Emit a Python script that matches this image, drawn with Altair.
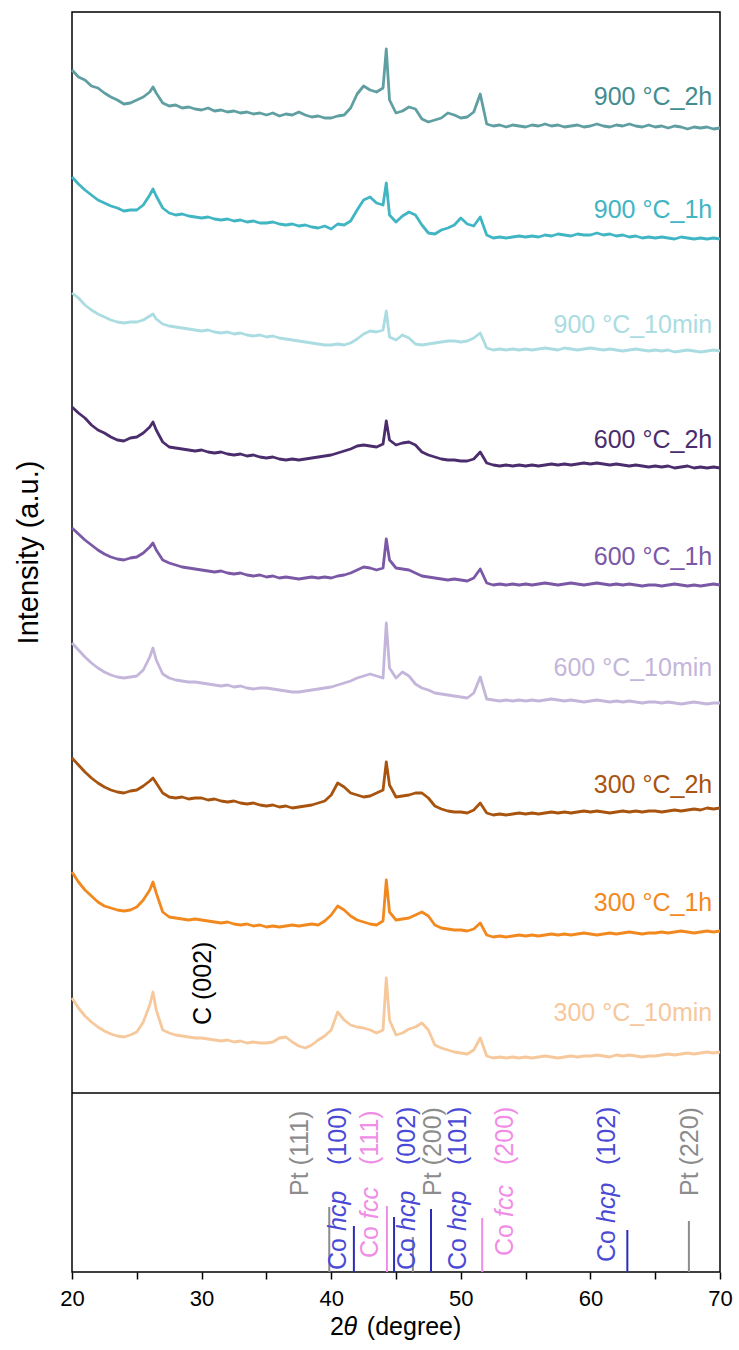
import altair as alt
import pandas as pd

# ---------------- data ----------------
two_theta = [20.0, 20.5, 21.0, 21.5, 22.0, 22.5, 23.0, 23.5, 24.0, 24.5,
             25.0, 25.5, 26.0, 26.25, 26.5, 27.0, 27.5, 28.0, 28.5, 29.0, 29.5,
             30.0, 30.5, 31.0, 31.5, 32.0, 32.5, 33.0, 33.5, 34.0, 34.5,
             35.0, 35.5, 36.0, 36.5, 37.0, 37.5, 38.0, 38.5, 39.0, 39.5,
             40.0, 40.5, 41.0, 41.5, 42.0, 42.5, 43.0, 43.5, 44.0, 44.25, 44.5,
             45.0, 45.5, 46.0, 46.5, 47.0, 47.5, 48.0, 48.5, 49.0, 49.5,
             50.0, 50.5, 51.0, 51.5, 52.0, 52.5, 53.0, 53.5, 54.0, 54.5,
             55.0, 55.5, 56.0, 56.5, 57.0, 57.5, 58.0, 58.5, 59.0, 59.5,
             60.0, 60.5, 61.0, 61.5, 62.0, 62.5, 63.0, 63.5, 64.0, 64.5,
             65.0, 65.5, 66.0, 66.5, 67.0, 67.5, 68.0, 68.5, 69.0, 69.5, 70.0]

I_900_2h = [1023, 1016, 1013, 1007, 1005, 1000, 996, 993, 989, 990,
            993, 996, 1001, 1006, 1000, 990, 987, 988, 985, 986, 984,
            983, 985, 982, 983, 981, 982, 980, 981, 979, 980,
            978, 980, 977, 979, 978, 981, 978, 976, 977, 975,
            975, 977, 978, 985, 999, 1007, 1003, 1001, 1005, 1044, 993,
            980, 982, 986, 984, 974, 971, 973, 975, 980, 978,
            975, 976, 981, 999, 969, 967, 968, 966, 968, 967,
            966, 968, 967, 969, 967, 968, 966, 967, 968, 966,
            967, 969, 967, 966, 968, 967, 969, 967, 966, 968,
            966, 967, 965, 967, 966, 964, 966, 965, 966, 964, 965]

I_900_1h = [916, 909, 903, 898, 893, 890, 887, 885, 882, 883,
            883, 888, 898, 904, 897, 885, 880, 878, 879, 877, 876,
            875, 876, 874, 873, 874, 872, 873, 871, 872, 870,
            870, 871, 869, 868, 869, 867, 868, 866, 865, 867,
            864, 869, 868, 872, 883, 893, 896, 890, 888, 910, 878,
            871, 877, 881, 878, 868, 860, 859, 863, 865, 868,
            875, 869, 867, 876, 858, 855, 856, 855, 856, 857,
            856, 857, 856, 858, 857, 859, 858, 857, 859, 858,
            858, 860, 858, 859, 857, 858, 856, 857, 855, 856,
            855, 856, 855, 854, 856, 855, 854, 855, 854, 855, 854]

I_900_10min = [800, 795, 788, 783, 779, 776, 773, 771, 770, 771,
               771, 773, 777, 779, 774, 769, 767, 766, 765, 764, 763,
               762, 763, 761, 760, 761, 759, 760, 758, 757, 758,
               756, 757, 755, 754, 753, 752, 751, 750, 749, 748,
               748, 749, 748, 750, 754, 759, 762, 761, 763, 782, 756,
               753, 758, 755, 749, 748, 749, 750, 751, 752, 752,
               751, 752, 755, 760, 745, 743, 744, 743, 744, 743,
               744, 743, 744, 745, 744, 743, 745, 744, 743, 744,
               745, 744, 743, 744, 743, 742, 743, 744, 743, 742,
               743, 742, 743, 741, 742, 743, 742, 741, 742, 743, 742]

I_600_2h = [686, 680, 675, 668, 663, 660, 656, 653, 652, 655,
            656, 660, 666, 671, 663, 651, 646, 645, 644, 643, 642,
            643, 641, 640, 641, 639, 638, 639, 637, 638, 636,
            635, 636, 634, 633, 634, 633, 634, 635, 636, 637,
            638, 640, 642, 644, 647, 648, 647, 646, 649, 672, 653,
            648, 650, 651, 648, 641, 638, 636, 634, 633, 633,
            632, 632, 634, 641, 630, 628, 627, 628, 627, 628,
            627, 628, 627, 628, 629, 628, 629, 628, 629, 630,
            629, 630, 629, 628, 629, 628, 627, 628, 627, 626,
            627, 626, 627, 625, 626, 627, 625, 626, 625, 626, 625]

I_600_1h = [565, 559, 553, 548, 543, 539, 536, 534, 533, 535,
            536, 540, 546, 550, 543, 533, 530, 528, 526, 525, 524,
            523, 522, 521, 522, 520, 519, 520, 518, 517, 518,
            516, 517, 515, 516, 515, 514, 515, 516, 515, 516,
            515, 517, 518, 520, 523, 526, 525, 523, 525, 554, 533,
            525, 524, 523, 520, 517, 516, 515, 514, 513, 514,
            513, 512, 515, 524, 510, 508, 509, 508, 509, 508,
            509, 508, 509, 510, 509, 508, 509, 510, 509, 508,
            509, 510, 509, 508, 509, 508, 509, 508, 507, 508,
            508, 507, 508, 509, 508, 507, 508, 507, 508, 509, 508]

I_600_10min = [450, 443, 436, 430, 425, 421, 418, 416, 415, 416,
               417, 423, 436, 445, 433, 419, 415, 413, 412, 411, 411,
               410, 409, 408, 407, 408, 406, 407, 405, 404, 405,
               405, 404, 403, 402, 401, 401, 402, 403, 404, 405,
               406, 408, 410, 412, 415, 417, 419, 417, 415, 470, 425,
               415, 421, 417, 409, 405, 403, 400, 399, 398, 397,
               396, 395, 400, 416, 394, 393, 392, 393, 392, 393,
               392, 393, 392, 393, 394, 393, 392, 393, 392, 391,
               392, 393, 392, 391, 392, 391, 392, 391, 390, 391,
               391, 390, 391, 390, 389, 390, 391, 390, 389, 390, 390]

I_300_2h = [335, 328, 321, 315, 310, 306, 303, 301, 300, 302,
            303, 307, 312, 315, 310, 300, 296, 295, 296, 294, 295,
            295, 293, 294, 292, 291, 292, 290, 289, 290, 288,
            287, 288, 286, 287, 285, 286, 287, 288, 290, 292,
            298, 310, 306, 300, 298, 296, 297, 300, 303, 331, 308,
            296, 297, 298, 300, 300, 295, 287, 284, 282, 281,
            281, 280, 283, 290, 280, 278, 279, 278, 279, 280,
            279, 280, 279, 280, 281, 280, 281, 280, 281, 282,
            281, 282, 281, 280, 281, 282, 281, 282, 281, 282,
            282, 281, 282, 283, 282, 283, 284, 283, 285, 284, 285]

I_300_1h = [221, 211, 203, 197, 191, 187, 185, 183, 182, 183,
            186, 193, 203, 211, 200, 181, 176, 175, 174, 173, 174,
            173, 172, 171, 170, 171, 169, 168, 169, 167, 168,
            166, 167, 166, 167, 168, 167, 168, 169, 168, 172,
            178, 187, 183, 177, 173, 171, 169, 168, 172, 213, 181,
            173, 174, 175, 178, 181, 177, 168, 165, 164, 163,
            163, 162, 164, 170, 158, 156, 157, 156, 157, 158,
            157, 158, 157, 158, 159, 158, 159, 158, 159, 160,
            159, 158, 159, 160, 159, 160, 161, 160, 159, 160,
            160, 161, 160, 161, 162, 161, 160, 161, 162, 161, 162]

I_300_10min = [95, 85, 77, 71, 66, 62, 59, 57, 56, 58,
               61, 71, 88, 101, 83, 63, 60, 58, 57, 56, 55,
               55, 54, 53, 52, 53, 51, 52, 50, 51, 50,
               50, 51, 55, 56, 51, 47, 45, 48, 53, 57,
               63, 81, 73, 68, 66, 65, 63, 60, 63, 115, 73,
               58, 60, 64, 66, 70, 63, 48, 45, 43, 41,
               40, 39, 43, 55, 37, 35, 36, 35, 36, 35,
               36, 35, 36, 37, 36, 35, 36, 37, 36, 37,
               37, 38, 37, 36, 38, 37, 38, 37, 36, 37,
               37, 38, 39, 38, 39, 40, 39, 40, 41, 40, 41]

samples = ["900 °C_2h", "900 °C_1h", "900 °C_10min",
           "600 °C_2h", "600 °C_1h", "600 °C_10min",
           "300 °C_2h", "300 °C_1h", "300 °C_10min"]
series = [I_900_2h, I_900_1h, I_900_10min,
          I_600_2h, I_600_1h, I_600_10min,
          I_300_2h, I_300_1h, I_300_10min]
sample_colors = ["#5f9fa2", "#40b5c3", "#aadce2",
                 "#4b2d6e", "#7a58a6", "#c4b6da",
                 "#a8540f", "#f2891f", "#f6c89b"]
label_colors = ["#3f8d8f", "#40b5c3", "#aadce2",
                "#4b2d6e", "#7a58a6", "#c4b6da",
                "#a8540f", "#f2891f", "#f6c89b"]
label_levels = [996, 883, 768, 653, 536, 425, 308, 190, 80]
label_x = 69.4

# reference pattern (bottom panel); heights = relative intensity above panel floor
panel_floor = -179
ref_pos = [39.85, 41.75, 44.3, 44.85, 46.3, 47.7, 51.65, 62.85, 67.6]
ref_height = [65, 46, 66, 55, 35, 63, 54, 42, 51]
ref_phase = ["Pt", "Co hcp", "Co fcc", "Co hcp", "Pt", "Co hcp", "Co fcc", "Co hcp", "Pt"]
phases = ["Pt", "Co hcp", "Co fcc"]
phase_line_colors = ["#8c8c8c", "#2b2bb8", "#f08de6"]
phase_text_colors = ["#8c8c8c", "#4a4ad6", "#f08de6"]

# rotated reference labels: text, 2theta, start height above floor, phase, italic
lab_text = ["Pt (111)",
            "Co", "hcp", "(100)",
            "Co", "fcc", "(111)",
            "Co", "hcp", "(002)",
            "Pt (200)",
            "Co", "hcp", "(101)",
            "Co", "fcc", "(200)",
            "Co", "hcp", "(102)",
            "Pt (220)"]
lab_pos = [37.6,
           40.5, 40.5, 40.5,
           43.0, 43.0, 43.0,
           45.85, 45.85, 45.85,
           47.85,
           49.8, 49.8, 49.8,
           53.4, 53.4, 53.4,
           61.3, 61.3, 61.3,
           67.7]
lab_start = [76,
             2, 41, 107,
             14, 53, 107,
             2, 41, 107,
             76,
             2, 41, 107,
             16, 55, 107,
             10, 49, 107,
             76]
lab_phase = ["Pt",
             "Co hcp", "Co hcp", "Co hcp",
             "Co fcc", "Co fcc", "Co fcc",
             "Co hcp", "Co hcp", "Co hcp",
             "Pt",
             "Co hcp", "Co hcp", "Co hcp",
             "Co fcc", "Co fcc", "Co fcc",
             "Co hcp", "Co hcp", "Co hcp",
             "Pt"]
lab_italic = [False,
              False, True, False,
              False, True, False,
              False, True, False,
              False,
              False, True, False,
              False, True, False,
              False, True, False,
              False]

carbon_label = "C (002)"
carbon_pos = 30.1
carbon_level = 68

# x-axis title pieces ("2θ (degree)" with italic θ)
xt_text = ["2", "θ", "(degree)"]
xt_pos = [39.9, 40.95, 42.75]
xt_italic = [False, True, False]
xt_level = -234

# ---------------- tables ----------------
rows = []
for name, vals in zip(samples, series):
    for t, v in zip(two_theta, vals):
        rows.append({"two_theta": t, "intensity": v, "sample": name})
df = pd.DataFrame(rows)

labels_df = pd.DataFrame({"sample": samples, "level": label_levels,
                          "x": [label_x] * len(samples)})

ref_df = pd.DataFrame({"pos": ref_pos, "phase": ref_phase,
                       "y0": [panel_floor] * len(ref_pos),
                       "y1": [panel_floor + h for h in ref_height]})

lab_df = pd.DataFrame({"text": lab_text, "pos": lab_pos, "phase": lab_phase,
                       "italic": lab_italic,
                       "y": [panel_floor + s for s in lab_start]})

sep_df = pd.DataFrame({"a": [20], "b": [70], "y": [0]})
carbon_df = pd.DataFrame({"text": [carbon_label], "pos": [carbon_pos], "y": [carbon_level]})
xt_df = pd.DataFrame({"text": xt_text, "pos": xt_pos, "italic": xt_italic,
                      "y": [xt_level] * len(xt_text)})

# ---------------- chart ----------------
FONT = "Liberation Sans"
x_scale = alt.Scale(domain=[20, 70], nice=False, zero=False)
y_scale = alt.Scale(domain=[panel_floor, 1081], nice=False, zero=False)
sample_scale = alt.Scale(domain=samples, range=sample_colors)
label_scale = alt.Scale(domain=samples, range=label_colors)
phase_line_scale = alt.Scale(domain=phases, range=phase_line_colors)
phase_text_scale = alt.Scale(domain=phases, range=phase_text_colors)

x_axis = alt.Axis(values=[20, 25, 30, 35, 40, 45, 50, 55, 60, 65, 70],
                  labelExpr="datum.value % 10 === 0 ? datum.label : ''",
                  title="", labelFlush=False,
                  labelFontSize=22, labelColor="black", labelPadding=9,
                  tickSize=7, tickWidth=1.5, tickColor="black",
                  domain=False, grid=False, labelFont=FONT)
y_axis = alt.Axis(title="Intensity (a.u.)", labels=False, ticks=False, domain=False,
                  grid=False, titleFontSize=29, titleFontWeight="normal",
                  titleColor="black", titleX=-44, titleY=540, titleAngle=270,
                  titleAlign="center", titleBaseline="middle", titleFont=FONT)


def X(field):
    return alt.X(field, scale=x_scale, axis=x_axis)


def Y(field):
    return alt.Y(field, scale=y_scale, axis=y_axis)


lines = alt.Chart(df).mark_line(strokeWidth=2.8, strokeJoin="round").encode(
    x=X("two_theta:Q"),
    y=Y("intensity:Q"),
    color=alt.Color("sample:N", scale=sample_scale, legend=None),
    detail="sample:N",
)

sample_labels = alt.Chart(labels_df).mark_text(
    align="right", baseline="middle", fontSize=25, font=FONT
).encode(
    x=X("x:Q"),
    y=Y("level:Q"),
    text="sample:N",
    color=alt.Color("sample:N", scale=label_scale, legend=None),
)

separator = alt.Chart(sep_df).mark_rule(color="black", strokeWidth=1.5).encode(
    x=X("a:Q"), x2="b:Q",
    y=Y("y:Q"),
)

ref_lines = alt.Chart(ref_df).mark_rule(strokeWidth=2).encode(
    x=X("pos:Q"),
    y=Y("y0:Q"), y2="y1:Q",
    color=alt.Color("phase:N", scale=phase_line_scale, legend=None),
)


def ref_text(italic):
    sub = lab_df[lab_df["italic"] == italic]
    return alt.Chart(sub).mark_text(
        angle=270, align="left", baseline="middle", fontSize=25, font=FONT,
        fontStyle="italic" if italic else "normal"
    ).encode(
        x=X("pos:Q"),
        y=Y("y:Q"),
        text="text:N",
        color=alt.Color("phase:N", scale=phase_text_scale, legend=None),
    )


def title_text(italic):
    sub = xt_df[xt_df["italic"] == italic]
    return alt.Chart(sub).mark_text(
        align="left", baseline="middle", fontSize=25, font=FONT, color="black",
        fontStyle="italic" if italic else "normal"
    ).encode(
        x=X("pos:Q"),
        y=Y("y:Q"),
        text="text:N",
    )


carbon = alt.Chart(carbon_df).mark_text(
    angle=270, align="left", baseline="middle", fontSize=25, font=FONT, color="black"
).encode(
    x=X("pos:Q"),
    y=Y("y:Q"),
    text="text:N",
)

main = alt.layer(lines, sample_labels).resolve_scale(color="independent")
refs = alt.layer(ref_lines)
texts = alt.layer(ref_text(False), ref_text(True))

chart = alt.layer(main, separator, carbon, refs, texts,
                  title_text(False), title_text(True)).resolve_scale(
    color="independent"
).properties(
    width=648, height=1260,
    autosize=alt.AutoSizeParams(type="none"),
    padding={"left": 72, "top": 12, "right": 19, "bottom": 78},
).configure_view(stroke="black", strokeWidth=1.5)

chart.save("out.html", embed_options={"renderer": "svg", "actions": False})
